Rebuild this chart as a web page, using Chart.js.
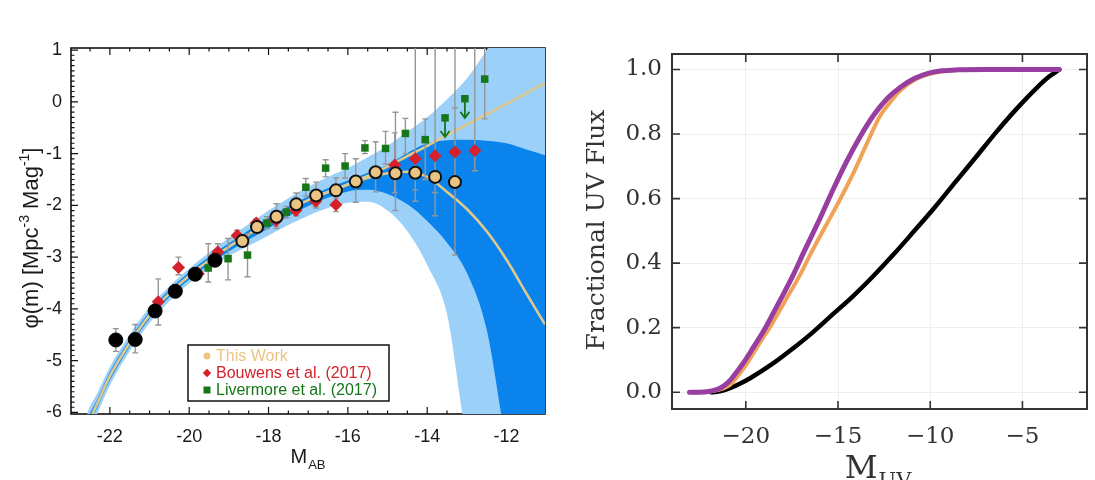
<!DOCTYPE html>
<html><head><meta charset="utf-8">
<script src="https://cdn.jsdelivr.net/npm/chart.js@4.4.1/dist/chart.umd.min.js"></script>
<style>html,body{margin:0;padding:0;background:#fff;}#wrap{position:relative;width:1095px;height:480px;overflow:hidden;background:#fff;}canvas{position:absolute;top:0;}</style>
</head><body><div id="wrap"><canvas id="left" width="560" height="480" style="left:0"></canvas><canvas id="right" width="535" height="480" style="left:560px"></canvas></div>
<script>
// ---------------- LEFT PANEL DATA ----------------
const LEFT_X_TICKS = [-22, -20, -18, -16, -14, -12];
const LEFT_X_LABELS = ['-22', '-20', '-18', '-16', '-14', '-12'];
const LEFT_Y_TICKS = [-6, -5, -4, -3, -2, -1, 0, 1];
const LEFT_Y_LABELS = ['-6', '-5', '-4', '-3', '-2', '-1', '0', '1'];

const BLACK_X = [-21.85, -21.36, -20.86, -20.35, -19.85, -19.35];
const BLACK_Y = [-4.60, -4.59, -4.04, -3.66, -3.33, -3.06];
const BLACK_LO = [-4.82, -4.85, -4.13, -3.73, -3.39, -3.12];
const BLACK_HI = [-4.38, -4.30, -3.95, -3.59, -3.27, -3.00];

const THIS_X = [-18.66, -18.29, -17.80, -17.30, -16.80, -16.30, -15.80, -15.30, -14.80, -14.30, -13.80, -13.30];
const THIS_Y = [-2.69, -2.42, -2.22, -1.98, -1.81, -1.71, -1.54, -1.36, -1.38, -1.37, -1.45, -1.55];
const THIS_LO = [-2.79, -2.54, -2.45, -2.20, -2.05, -1.95, -1.94, -1.74, -2.10, -1.92, -2.20, -2.96];
const THIS_HI = [-2.59, -2.30, -1.97, -1.76, -1.55, -1.47, -1.10, -0.77, -0.20, 1.60, 1.60, -0.12];

const BOUW_X = [-20.78, -20.27, -19.77, -19.28, -18.79, -18.31, -17.81, -17.31, -16.81, -16.30, -14.82, -14.30, -13.80, -13.30, -12.80];
const BOUW_Y = [-3.86, -3.20, -3.32, -2.90, -2.58, -2.34, -2.29, -2.10, -1.92, -1.99, -1.22, -1.10, -1.04, -0.97, -0.94];
const BOUW_LO = [-4.31, -3.34, -3.42, -3.10, -2.68, -2.42, -2.41, -2.20, -2.02, -2.12, -1.75, -1.70, -1.75, -1.60, -1.33];
const BOUW_HI = [-3.42, -3.00, -3.22, -2.74, -2.48, -2.26, -2.17, -2.00, -1.82, -1.86, -0.60, 1.60, 1.60, 1.60, 1.60];

const LIV_X = [-19.52, -19.02, -18.53, -18.04, -17.55, -17.06, -16.56, -16.07, -15.57, -15.05, -14.55, -14.05, -13.55, -13.05, -12.55];
const LIV_Y = [-3.21, -3.03, -2.96, -2.34, -2.13, -1.65, -1.28, -1.24, -0.89, -0.90, -0.61, -0.73, -0.31, 0.06, 0.44];
const LIV_LO = [-3.48, -3.44, -3.38, -2.45, -2.24, -1.82, -1.45, -1.47, -1.00, -1.20, -1.00, -1.50, null, null, -0.33];
const LIV_HI = [-2.74, -2.64, -2.55, -2.22, -2.02, -1.48, -1.12, -1.00, -0.75, -0.57, -0.32, -0.33, null, null, 1.60];
const LIV_LIMIT = [false, false, false, false, false, false, false, false, false, false, false, false, true, true, false];

const CURVE_X = [-22.6, -22.45, -22.3, -22.0, -21.5, -21.0, -20.5, -20.0, -19.5, -19.0, -18.5, -18.0, -17.5, -17.0, -16.5, -16.0, -15.5, -15.0, -14.5, -14.0, -13.5, -13.0, -12.5, -12.0, -11.5, -11.03];
const CURVE_Y = [-6.35, -6.05, -5.80, -5.30, -4.66, -4.12, -3.70, -3.36, -3.06, -2.80, -2.56, -2.32, -2.10, -1.90, -1.74, -1.60, -1.47, -1.38, -1.35, -1.45, -1.74, -2.07, -2.50, -3.05, -3.70, -4.30];

const POW_X = [-17.0, -16.5, -16.0, -15.5, -15.0, -14.5, -14.0, -13.5, -13.0, -12.5, -12.0, -11.5, -11.03];
const POW_Y = [-1.90, -1.74, -1.59, -1.43, -1.25, -1.05, -0.85, -0.64, -0.44, -0.24, -0.04, 0.17, 0.36];

const BAND_X   = [-22.98, -22.6, -22.3, -22.0, -21.5, -21.0, -20.5, -20.0, -19.5, -19.0, -18.5, -18.0, -17.5, -17.0, -16.5, -16.0, -15.5, -15.0, -14.5, -14.0, -13.5, -13.0, -12.5, -12.0, -11.5, -11.03];
const LIGHT_UP = [-7.6, -6.10, -5.60, -5.12, -4.50, -3.97, -3.56, -3.22, -2.91, -2.63, -2.36, -2.10, -1.86, -1.64, -1.45, -1.28, -1.07, -0.85, -0.58, -0.30, 0.05, 0.45, 1.00, 1.60, 1.60, 1.60];
const LIGHT_LO = [-8.4, -6.60, -6.00, -5.48, -4.82, -4.27, -3.85, -3.51, -3.22, -2.98, -2.78, -2.58, -2.38, -2.20, -2.05, -1.95, -1.93, -2.10, -2.50, -3.15, -4.10, -6.50, -7.50, -8.0, -8.0, -8.0];
const DARK_UP  = [-7.8, -6.25, -5.72, -5.22, -4.59, -4.05, -3.63, -3.29, -2.99, -2.73, -2.48, -2.24, -2.02, -1.83, -1.67, -1.52, -1.37, -1.22, -0.99, -0.80, -0.74, -0.73, -0.75, -0.80, -0.92, -1.03];
const DARK_LO  = [-8.2, -6.45, -5.88, -5.38, -4.73, -4.19, -3.77, -3.43, -3.14, -2.89, -2.66, -2.44, -2.21, -2.01, -1.85, -1.73, -1.70, -1.78, -1.98, -2.30, -2.72, -3.30, -4.40, -6.60, -8.0, -8.0];

// ---------------- RIGHT PANEL DATA ----------------
const RIGHT_X_TICKS = [-20, -15, -10, -5];
const RIGHT_X_LABELS = ['\u221220', '\u221215', '\u221210', '\u22125'];
const RIGHT_Y_TICKS = [0, 0.2, 0.4, 0.6, 0.8, 1.0];
const RIGHT_Y_LABELS = ['0.0', '0.2', '0.4', '0.6', '0.8', '1.0'];

const PURPLE_X = [-23.05, -22.5, -21.94, -21.5, -21.2, -20.8, -20.46, -20.1, -19.72, -18.98, -18.25, -17.5, -16.77, -16.03, -15.29, -14.55, -13.81, -13.07, -12.33, -11.6, -10.86, -10.12, -9.38, -8.5, -7.0, -5.0, -3.0];
const PURPLE_Y = [0, 0, 0.003, 0.010, 0.019, 0.040, 0.065, 0.093, 0.127, 0.195, 0.273, 0.355, 0.444, 0.532, 0.625, 0.713, 0.791, 0.858, 0.910, 0.946, 0.972, 0.988, 0.996, 0.999, 1.0, 1.0, 1.0];
const ORANGE_X = [-23.05, -22.0, -21.2, -20.83, -20.09, -19.35, -18.6, -17.87, -17.14, -16.4, -15.66, -14.92, -14.18, -13.44, -12.7, -12.15, -11.6, -10.86, -10.12, -8.8, -7.0, -5.0, -3.0];
const ORANGE_Y = [0, 0.002, 0.012, 0.024, 0.076, 0.143, 0.210, 0.283, 0.355, 0.438, 0.516, 0.594, 0.677, 0.770, 0.858, 0.900, 0.936, 0.967, 0.985, 0.998, 1.0, 1.0, 1.0];
const BLACKC_X = [-21.9, -21.57, -21.2, -20.83, -20.3, -19.72, -18.6, -17.5, -16.4, -15.29, -14.18, -13.07, -11.97, -10.86, -9.75, -8.64, -7.53, -6.42, -5.32, -4.21, -3.55, -3.0];
const BLACKC_Y = [0, 0.001, 0.006, 0.013, 0.027, 0.045, 0.086, 0.133, 0.184, 0.241, 0.298, 0.361, 0.428, 0.500, 0.573, 0.651, 0.728, 0.806, 0.878, 0.944, 0.978, 1.0];

// ---------------- STYLES ----------------
const LIGHT_BLUE = 'rgb(155,208,249)';
const DARK_BLUE = 'rgb(10,132,236)';
const TAN_LINE = 'rgb(222,200,142)';
const TAN_FILL = 'rgb(234,196,130)';
const RED = 'rgb(214,32,42)';
const GREEN = 'rgb(22,118,24)';
const SANS = "'Liberation Sans', Arial, sans-serif";
const SERIF = "'DejaVu Serif', serif";

const pts = (xs, ys) => xs.map((x, i) => ({x: x, y: ys[i]}));
const fixTicks = (vals) => (scale) => { scale.ticks = vals.map(v => ({value: v})); };

function range(a, b, step) { const out = []; for (let v = a; v <= b + 1e-9; v += step) out.push(Math.round(v * 1000) / 1000); return out; }

function makeFrame(cfg) {
  return {
    id: 'frame' + cfg.name,
    beforeDatasetsDraw(chart) {
      const {ctx, chartArea: a} = chart;
      const xs = chart.scales.x, ys = chart.scales.y;
      ctx.save();
      ctx.strokeStyle = cfg.color;
      ctx.lineWidth = cfg.tickWidth;
      ctx.beginPath();
      const vTick = (v, len) => { const p = xs.getPixelForValue(v); if (p < a.left || p > a.right) return; ctx.moveTo(p, a.bottom); ctx.lineTo(p, a.bottom - len); ctx.moveTo(p, a.top); ctx.lineTo(p, a.top + len); };
      const hTick = (v, len) => { const p = ys.getPixelForValue(v); if (p < a.top || p > a.bottom) return; ctx.moveTo(a.left, p); ctx.lineTo(a.left + len, p); ctx.moveTo(a.right, p); ctx.lineTo(a.right - len, p); };
      cfg.xMinor.forEach(v => vTick(v, cfg.minorLen));
      cfg.yMinor.forEach(v => hTick(v, cfg.minorLen));
      cfg.xMajor.forEach(v => vTick(v, cfg.majorLen));
      cfg.yMajor.forEach(v => hTick(v, cfg.majorLen));
      ctx.stroke();
      ctx.lineWidth = cfg.frameWidth;
      ctx.strokeRect(a.left, a.top, a.right - a.left, a.bottom - a.top);
      ctx.restore();
    }
  };
}

// error bars drawn right after the fit line (index 4) so that markers sit on top
const errorBars = {
  id: 'errorBars',
  afterDatasetDraw(chart, args) {
    if (args.index !== 4) return;
    const {ctx, chartArea: a} = chart;
    const xs = chart.scales.x, ys = chart.scales.y;
    ctx.save();
    ctx.beginPath(); ctx.rect(a.left, a.top, a.right - a.left, a.bottom - a.top); ctx.clip();
    ctx.strokeStyle = 'rgb(150,150,150)';
    ctx.lineWidth = 1.4;
    const series = [[BLACK_X, BLACK_LO, BLACK_HI], [THIS_X, THIS_LO, THIS_HI], [BOUW_X, BOUW_LO, BOUW_HI], [LIV_X, LIV_LO, LIV_HI]];
    ctx.beginPath();
    series.forEach(([X, LO, HI]) => {
      X.forEach((xv, i) => {
        if (LO[i] === null || HI[i] === null) return;
        const px = xs.getPixelForValue(xv);
        const p1 = ys.getPixelForValue(LO[i]);
        const p2 = ys.getPixelForValue(HI[i]);
        ctx.moveTo(px, p1); ctx.lineTo(px, p2);
        ctx.moveTo(px - 3, p1); ctx.lineTo(px + 3, p1);
        ctx.moveTo(px - 3, p2); ctx.lineTo(px + 3, p2);
      });
    });
    ctx.stroke();
    ctx.restore();
  }
};

const limitArrows = {
  id: 'limitArrows',
  afterDatasetsDraw(chart) {
    const {ctx} = chart;
    const xs = chart.scales.x, ys = chart.scales.y;
    ctx.save();
    ctx.strokeStyle = GREEN;
    ctx.lineWidth = 1.8;
    LIV_X.forEach((xv, i) => {
      if (!LIV_LIMIT[i]) return;
      const px = xs.getPixelForValue(xv);
      const p0 = ys.getPixelForValue(LIV_Y[i]) + 3;
      const p1 = ys.getPixelForValue(LIV_Y[i] - 0.37);
      ctx.beginPath();
      ctx.moveTo(px, p0); ctx.lineTo(px, p1);
      ctx.moveTo(px - 4.5, p1 - 6); ctx.lineTo(px, p1); ctx.lineTo(px + 4.5, p1 - 6);
      ctx.stroke();
    });
    ctx.restore();
  }
};

const leftDecor = {
  id: 'leftDecor',
  afterDraw(chart) {
    const {ctx, chartArea: a} = chart;
    ctx.save();
    // legend box
    const bx = 188, by = 345, bw = 201, bh = 56;
    ctx.fillStyle = '#fff';
    ctx.fillRect(bx, by, bw, bh);
    ctx.strokeStyle = '#111'; ctx.lineWidth = 1.5;
    ctx.strokeRect(bx, by, bw, bh);
    const rows = [
      {t: 'This Work', c: TAN_FILL, s: 'circle', y: 356},
      {t: 'Bouwens et al. (2017)', c: RED, s: 'diamond', y: 373},
      {t: 'Livermore et al. (2017)', c: GREEN, s: 'square', y: 390}
    ];
    ctx.font = '16px ' + SANS;
    ctx.textBaseline = 'middle'; ctx.textAlign = 'left';
    rows.forEach(r => {
      ctx.fillStyle = r.c;
      const mx = 207, my = r.y;
      ctx.beginPath();
      if (r.s === 'circle') { ctx.arc(mx, my, 3.5, 0, Math.PI * 2); }
      else if (r.s === 'diamond') { ctx.moveTo(mx, my - 4.2); ctx.lineTo(mx + 4.2, my); ctx.lineTo(mx, my + 4.2); ctx.lineTo(mx - 4.2, my); ctx.closePath(); }
      else { ctx.rect(mx - 3.5, my - 3.5, 7, 7); }
      ctx.fill();
      ctx.fillText(r.t, 216, r.y + 1);
    });
    // axis titles
    ctx.fillStyle = '#1a1a1a';
    ctx.textBaseline = 'alphabetic';
    const cx = (a.left + a.right) / 2;
    ctx.font = '20px ' + SANS; const wM = ctx.measureText('M').width;
    ctx.font = '13px ' + SANS; const wS = ctx.measureText('AB').width;
    const x0 = cx - (wM + wS + 1) / 2;
    ctx.font = '20px ' + SANS; ctx.fillText('M', x0, 463);
    ctx.font = '13px ' + SANS; ctx.fillText('AB', x0 + wM + 1, 469);
    // y title with superscripts
    const parts = [['\u03c6(m) [Mpc', 22, 0], ['-3', 14, -9], [' Mag', 22, 0], ['-1', 14, -9], [']', 22, 0]];
    let total = 0;
    parts.forEach(p => { ctx.font = p[1] + 'px ' + SANS; p.push(ctx.measureText(p[0]).width); total += p[3]; });
    ctx.translate(38, 238);
    ctx.rotate(-Math.PI / 2);
    let px = -total / 2;
    parts.forEach(p => { ctx.font = p[1] + 'px ' + SANS; ctx.fillText(p[0], px, p[2]); px += p[3]; });
    ctx.restore();
  }
};

new Chart(document.getElementById('left'), {
  type: 'line',
  data: {
    datasets: [
      {label: 'Black', data: pts(BLACK_X, BLACK_Y), showLine: false, pointStyle: 'circle', pointRadius: 7, pointBackgroundColor: '#000', pointBorderColor: '#000', pointBorderWidth: 1},
      {label: 'This Work', data: pts(THIS_X, THIS_Y), showLine: false, pointStyle: 'circle', pointRadius: 6, pointBackgroundColor: TAN_FILL, pointBorderColor: '#111', pointBorderWidth: 2},
      {label: 'Bouwens et al. (2017)', data: pts(BOUW_X, BOUW_Y), showLine: false, pointStyle: 'rectRot', pointRadius: 6.5, pointBackgroundColor: RED, pointBorderColor: RED, pointBorderWidth: 0},
      {label: 'Livermore et al. (2017)', data: pts(LIV_X, LIV_Y), showLine: false, pointStyle: 'rect', pointRadius: 5.3, pointBackgroundColor: GREEN, pointBorderColor: GREEN, pointBorderWidth: 0},
      {label: 'fit', data: pts(CURVE_X, CURVE_Y), borderColor: TAN_LINE, borderWidth: 2.6, pointRadius: 0, cubicInterpolationMode: 'monotone', fill: false},
      {label: 'fit no turnover', data: pts(POW_X, POW_Y), borderColor: TAN_LINE, borderWidth: 2.6, pointRadius: 0, cubicInterpolationMode: 'monotone', fill: false},
      {label: 'dark up', data: pts(BAND_X, DARK_UP), borderWidth: 0, borderColor: 'rgba(0,0,0,0)', pointRadius: 0, cubicInterpolationMode: 'monotone', fill: 7, backgroundColor: DARK_BLUE},
      {label: 'dark lo', data: pts(BAND_X, DARK_LO), borderWidth: 0, borderColor: 'rgba(0,0,0,0)', pointRadius: 0, cubicInterpolationMode: 'monotone', fill: false},
      {label: 'light up', data: pts(BAND_X, LIGHT_UP), borderWidth: 0, borderColor: 'rgba(0,0,0,0)', pointRadius: 0, cubicInterpolationMode: 'monotone', fill: 9, backgroundColor: LIGHT_BLUE},
      {label: 'light lo', data: pts(BAND_X, LIGHT_LO), borderWidth: 0, borderColor: 'rgba(0,0,0,0)', pointRadius: 0, cubicInterpolationMode: 'monotone', fill: false}
    ]
  },
  options: {
    responsive: false, animation: false, devicePixelRatio: 1, events: [],
    layout: {padding: {left: 0, right: 15, top: 48, bottom: 0}},
    plugins: {legend: {display: false}, tooltip: {enabled: false}},
    scales: {
      x: {type: 'linear', min: -22.98, max: -11.03,
        afterBuildTicks: fixTicks(LEFT_X_TICKS),
        afterFit: (s) => { s.height = 66; },
        grid: {display: false, drawTicks: false}, border: {display: false},
        ticks: {autoSkip: false, maxRotation: 0, padding: 12, color: '#1a1a1a', font: {family: SANS, size: 18}, callback: (v, i) => LEFT_X_LABELS[i]}},
      y: {type: 'linear', min: -6.03, max: 1.04,
        afterBuildTicks: fixTicks(LEFT_Y_TICKS),
        afterFit: (s) => { s.width = 71; },
        grid: {display: false, drawTicks: false}, border: {display: false},
        ticks: {autoSkip: false, padding: 9, color: '#1a1a1a', font: {family: SANS, size: 18}, callback: (v, i) => LEFT_Y_LABELS[i]}}
    }
  },
  plugins: [makeFrame({name: 'L', color: '#111', tickWidth: 1.2, frameWidth: 1.6, majorLen: 7, minorLen: 3.5,
    xMajor: LEFT_X_TICKS, yMajor: LEFT_Y_TICKS,
    xMinor: range(-22.5, -11.5, 0.5), yMinor: range(-6, 1, 0.1)}), errorBars, limitArrows, leftDecor]
});

// ---------------- RIGHT PANEL ----------------
const rightDecor = {
  id: 'rightDecor',
  afterDraw(chart) {
    const {ctx, chartArea: a} = chart;
    ctx.save();
    ctx.fillStyle = '#333';
    ctx.textBaseline = 'alphabetic'; ctx.textAlign = 'left';
    const cx = (a.left + a.right) / 2;
    ctx.font = '32px ' + SERIF; const wM = ctx.measureText('M').width;
    ctx.font = '21px ' + SERIF; const wS = ctx.measureText('UV').width;
    const x0 = cx - (wM + wS) / 2 - 2;
    ctx.font = '32px ' + SERIF; ctx.fillText('M', x0, 478);
    ctx.font = '21px ' + SERIF; ctx.fillText('UV', x0 + wM + 1, 487);
    ctx.font = '25px ' + SERIF;
    const t = 'Fractional UV Flux';
    const w = ctx.measureText(t).width;
    ctx.translate(44, 230);
    ctx.rotate(-Math.PI / 2);
    ctx.fillText(t, -w / 2, 0);
    ctx.restore();
  }
};

new Chart(document.getElementById('right'), {
  type: 'line',
  data: {
    datasets: [
      {label: 'purple', data: pts(PURPLE_X, PURPLE_Y), borderColor: 'rgb(152,62,160)', borderWidth: 5, pointRadius: 0, cubicInterpolationMode: 'monotone', borderCapStyle: 'round', fill: false},
      {label: 'orange', data: pts(ORANGE_X, ORANGE_Y), borderColor: 'rgb(240,163,86)', borderWidth: 4, pointRadius: 0, cubicInterpolationMode: 'monotone', borderCapStyle: 'round', fill: false},
      {label: 'black', data: pts(BLACKC_X, BLACKC_Y), borderColor: '#000', borderWidth: 4.5, pointRadius: 0, cubicInterpolationMode: 'monotone', borderCapStyle: 'round', fill: false}
    ]
  },
  options: {
    responsive: false, animation: false, devicePixelRatio: 1, events: [],
    layout: {padding: {left: 0, right: 8, top: 54, bottom: 0}},
    plugins: {legend: {display: false}, tooltip: {enabled: false}},
    scales: {
      x: {type: 'linear', min: -24, max: -1.5,
        afterBuildTicks: fixTicks(RIGHT_X_TICKS),
        afterFit: (s) => { s.height = 71; },
        grid: {display: true, color: '#eeeeee', lineWidth: 1, drawTicks: false}, border: {display: false},
        ticks: {autoSkip: false, maxRotation: 0, padding: 14, color: '#333', font: {family: SERIF, size: 23}, callback: (v, i) => RIGHT_X_LABELS[i]}},
      y: {type: 'linear', min: -0.052, max: 1.048,
        afterBuildTicks: fixTicks(RIGHT_Y_TICKS),
        afterFit: (s) => { s.width = 112; },
        grid: {display: true, color: '#eeeeee', lineWidth: 1, drawTicks: false}, border: {display: false},
        ticks: {autoSkip: false, padding: 10, color: '#333', font: {family: SERIF, size: 23}, callback: (v, i) => RIGHT_Y_LABELS[i]}}
    }
  },
  plugins: [makeFrame({name: 'R', color: '#333', tickWidth: 1.6, frameWidth: 2, majorLen: 8, minorLen: 0,
    xMajor: RIGHT_X_TICKS, yMajor: RIGHT_Y_TICKS, xMinor: [], yMinor: []}), rightDecor]
});
</script></body></html>
